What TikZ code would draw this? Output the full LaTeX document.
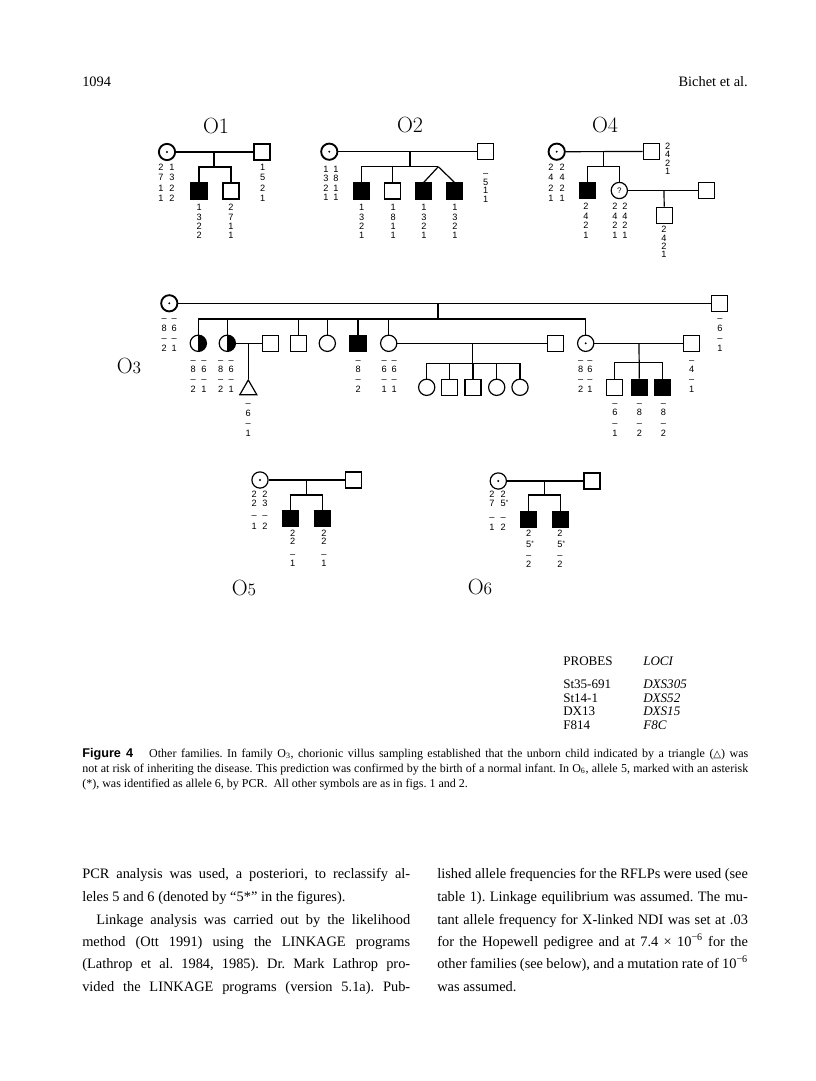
\documentclass[tikz,border=0pt]{standalone}
\usepackage{fontspec}
\newfontfamily\tms{Liberation Serif}
\newfontfamily\alfont{Liberation Sans}
\newfontfamily\capsans{Liberation Sans}
\newfontfamily\symf{DejaVu Sans}
\usetikzlibrary{shapes.geometric}
\frenchspacing
\newcommand\gcol[3]{\foreach \yy/\vv [count=\ii] in {#3} {\node[al] (#1-\ii) at (#2,\yy) {\vv};}}
\newcommand\myast{\rlap{\raisebox{0.35ex}{\fontsize{4.8}{4.8}\selectfont *}}}
\tikzset{
 ped/.style={line width=0.9pt},
 sq/.style={draw, line width=0.9pt, rectangle, minimum size=12pt, inner sep=0pt},
 fsq/.style={sq, fill=black},
 fem/.style={draw, line width=0.9pt, circle, minimum size=12.2pt, inner sep=0pt},
 carr/.style={fem, path picture={\fill (path picture bounding box.center) circle (0.8pt);}},
 carrt/.style={carr, line width=1.4pt},
 half/.style={fem, path picture={\fill (path picture bounding box.north) rectangle (path picture bounding box.south east);}},
 tri/.style={draw, line width=0.9pt, regular polygon, regular polygon sides=3, minimum size=14.7pt, inner sep=0pt},
 al/.style={font=\alfont\fontsize{6.9}{7}\selectfont, inner sep=0pt, text height=5pt, text depth=0pt},
 otitle/.style={font=\fontsize{16.5}{18}\selectfont, inner sep=0pt},
 txt/.style={font=\tms\fontsize{10.8}{12}\selectfont, inner sep=0pt, anchor=base west},
 captxt/.style={font=\tms\fontsize{9}{10}\selectfont, inner sep=0pt, anchor=base west},
 prb/.style={font=\tms\fontsize{9.8}{11}\selectfont, inner sep=0pt, anchor=base west},
}
\begin{document}
\begin{tikzpicture}[x=0.75pt,y=-0.75pt]
\fill[white] (0,0) rectangle (816,1081);
\useasboundingbox (0,0) rectangle (816,1081);

% header
\node[txt] (pg) at (82,87) {1094};
\node[txt, anchor=base east] (au) at (748,87) {Bichet et al.};

% ---------- O1
\node[otitle] (t1) at (216,126) {O1};
\node[carrt] (o1m) at (167,152) {};
\node[sq] (o1f) at (262,152) {};
\draw[ped] (o1m) -- (o1f);
\coordinate (o1d) at (214,152);
\coordinate (o1s) at (214,167);
\node[fsq] (o1c1) at (199,191) {};
\node[sq] (o1c2) at (231,191) {};
\draw[ped] (o1d) -- (o1s);
\draw[ped] (o1c1.north) |- (o1s) -| (o1c2.north);
\gcol{o1ma}{161}{167/2,177.5/7,188/1,198.5/1}
\gcol{o1mb}{172}{167/1,177.5/3,188/2,198.5/2}
\gcol{o1fa}{262.7}{167/1,177.5/5,188/2,198.5/1}
\gcol{o1c1a}{199.3}{207.3/1,216.7/3,226/2,235.3/2}
\gcol{o1c2a}{231}{207.3/2,216.7/7,226/1,235.3/1}

% ---------- O2
\node[otitle] (t2) at (410,125) {O2};
\node[carrt] (o2m) at (329.3,151.7) {};
\node[sq] (o2f) at (485.5,151.7) {};
\draw[ped] (o2m) -- (o2f);
\coordinate (o2d) at (410,151.7);
\coordinate (o2s) at (410,166.7);
\coordinate (o2t) at (438.3,166.7);
\node[fsq] (o2c1) at (361.3,191) {};
\node[sq] (o2c2) at (392.8,191) {};
\node[fsq] (o2c3) at (423.7,191) {};
\node[fsq] (o2c4) at (454.5,191) {};
\draw[ped] (o2d) -- (o2s);
\draw[ped] (o2c1.north) |- (o2t);
\draw[ped] (o2c2.north) -- (o2c2.north |- o2s);
\draw[ped] (o2t) -- (o2c3.north);
\draw[ped] (o2t) -- (o2c4.north);
\gcol{o2ma}{326}{169/1,178.5/3,188/2,197.5/1}
\gcol{o2mb}{336}{169/1,178.5/8,188/1,197.5/1}
\gcol{o2fa}{485.7}{173/–,182/5,190.5/1,199/1}
\gcol{o2c1a}{361.7}{207.3/1,216.7/3,226/2,235.3/1}
\gcol{o2c2a}{393.3}{207.3/1,216.7/8,226/1,235.3/1}
\gcol{o2c3a}{424}{207.3/1,216.7/3,226/2,235.3/1}
\gcol{o2c4a}{455}{207.3/1,216.7/3,226/2,235.3/1}

% ---------- O4
\node[otitle] (t4) at (605,125) {O4};
\node[carrt] (o4m) at (556.7,151.7) {};
\node[sq] (o4f) at (651.3,151.5) {};
\draw[ped] (o4m) -- (o4f);
\coordinate (o4d) at (603.3,151.6);
\coordinate (o4s) at (603.3,166.7);
\node[fsq] (o4c1) at (587.3,190.5) {};
\node[fem, font=\alfont\fontsize{6}{6}\selectfont] (o4c2) at (619.3,190.5) {?};
\node[sq] (o4f2) at (706.3,190.5) {};
\coordinate (o4d2) at (664,190.5);
\node[sq] (o4c3) at (664.2,215.3) {};
\draw[ped] (o4d) -- (o4s);
\draw[ped] (o4c1.north) |- (o4s) -| (o4c2.north);
\draw[ped] (o4c2) -- (o4f2);
\draw[ped] (o4d2) -- (o4c3.north);
\gcol{o4ma}{551}{167/2,177.5/4,188/2,198.5/1}
\gcol{o4mb}{562.3}{167/2,177.5/4,188/2,198.5/1}
\gcol{o4fa}{667.7}{146.3/2,154.5/4,162.7/2,170.9/1}
\gcol{o4c1a}{586}{206.5/2,216/4,225.5/2,235/1}
\gcol{o4c2a}{615}{206.5/2,216/4,225.5/2,235/1}
\gcol{o4c2b}{625}{206.5/2,216/4,225.5/2,235/1}
\gcol{o4c3a}{664}{229.3/2,237.7/4,246.1/2,254.5/1}

% ---------- O3
\node[otitle] (t3) at (129,366) {O{\fontsize{13}{13}\selectfont 3}};
\node[carrt] (o3g1) at (169.3,303.3) {};
\node[sq] (o3g2) at (719.8,303.3) {};
\draw[ped] (o3g1) -- (o3g2);
\coordinate (o3d) at (438,303.3);
\coordinate (o3s) at (438,319);
\draw[ped] (o3d) -- (o3s);
\node[half] (o3h1) at (198.3,343.3) {};
\node[half] (o3h2) at (227.3,343.3) {};
\node[sq] (o3h3) at (298.7,343.3) {};
\node[fem] (o3h4) at (327.3,343.3) {};
\node[fsq] (o3h5) at (358,343.3) {};
\node[fem] (o3h6) at (388.7,343.3) {};
\node[carr] (o3h7) at (585.7,343.3) {};
\draw[ped] (o3h1.north) |- (o3s) -| (o3h7.north);
\foreach \n in {o3h2,o3h3,o3h4,o3h5,o3h6} \draw[ped] (\n.north) -- (\n.north |- o3s);
% spouse of h2 and the unborn child
\node[sq] (o3p2) at (270.3,343.3) {};
\draw[ped] (o3h2) -- (o3p2);
\coordinate (o3d2) at (248.3,343.3);
\node[tri] (o3tr) at (248.3,389.8) {};
\draw[ped] (o3d2) -- (o3tr.corner 1);
% spouse of h6 and children
\node[sq] (o3p6) at (555.3,343.3) {};
\draw[ped] (o3h6) -- (o3p6);
\coordinate (o3d6) at (472.7,343.3);
\coordinate (o3s6) at (472.7,363.3);
\draw[ped] (o3d6) -- (o3s6);
\node[fem] (o3k1) at (426.7,387.3) {};
\node[sq] (o3k2) at (449.8,387.3) {};
\node[sq] (o3k3) at (473,387.3) {};
\node[fem] (o3k4) at (496.7,387.3) {};
\node[fem] (o3k5) at (520,387.3) {};
\draw[ped] (o3k1.north) |- (o3s6) -| (o3k5.north);
\foreach \n in {o3k2,o3k3,o3k4} \draw[ped] (\n.north) -- (\n.north |- o3s6);
% spouse of h7 and children
\node[sq] (o3p7) at (691.2,343.3) {};
\draw[ped] (o3h7) -- (o3p7);
\coordinate (o3d7) at (639,343.3);
\coordinate (o3s7) at (639,362.3);
\node[sq] (o3m1) at (614.7,387.3) {};
\node[fsq] (o3m2) at (639.3,387.3) {};
\node[fsq] (o3m3) at (662.7,387.3) {};
\draw[ped] (o3d7) -- (o3m2.north);
\draw[ped] (o3m1.north) |- (o3s7) -| (o3m3.north);
% O3 alleles
\gcol{o3g1a}{164.3}{318/–,328/8,338/–,348/2}
\gcol{o3g1b}{174.3}{318/–,328/6,338/–,348/1}
\gcol{o3g2a}{720}{318/–,328/6,338/–,348/1}
\gcol{o3h1a}{193.3}{360/–,369.5/8,379.5/–,389.3/2}
\gcol{o3h1b}{204}{360/–,369.5/6,379.5/–,389.3/1}
\gcol{o3h2a}{220.7}{360/–,369.5/8,379.5/–,389.3/2}
\gcol{o3h2b}{231.3}{360/–,369.5/6,379.5/–,389.3/1}
\gcol{o3h5a}{358.3}{360/–,369.5/8,379.5/–,389.3/2}
\gcol{o3h6a}{384.3}{360/–,369.5/6,379.5/–,389.3/1}
\gcol{o3h6b}{394.3}{360/–,369.5/6,379.5/–,389.3/1}
\gcol{o3h7a}{580.7}{360/–,369.5/8,379.5/–,389.3/2}
\gcol{o3h7b}{590}{360/–,369.5/6,379.5/–,389.3/1}
\gcol{o3p7a}{691.7}{360/–,369.5/4,379.5/–,389.3/1}
\gcol{o3tra}{248.3}{403.3/–,413/6,423.3/–,433.3/1}
\gcol{o3m1a}{615}{402.7/–,412.5/6,422.7/–,432.7/1}
\gcol{o3m2a}{639.3}{402.7/–,412.5/8,422.7/–,432.7/2}
\gcol{o3m3a}{663.3}{402.7/–,412.5/8,422.7/–,432.7/2}

% ---------- O5
\node[otitle] (t5) at (244,588) {O{\fontsize{13}{13}\selectfont 5}};
\node[carr] (o5m) at (260,480) {};
\node[sq] (o5f) at (353.7,480) {};
\draw[ped] (o5m) -- (o5f);
\coordinate (o5d) at (306.7,480);
\coordinate (o5s) at (306.7,495);
\node[fsq] (o5c1) at (290.8,518.3) {};
\node[fsq] (o5c2) at (322.5,518.3) {};
\draw[ped] (o5d) -- (o5s);
\draw[ped] (o5c1.north) |- (o5s) -| (o5c2.north);
\gcol{o5ma}{254.3}{494.3/2,502.7/2,515/–,525.7/1}
\gcol{o5mb}{265}{494.3/2,502.7/3,515/–,525.7/2}
\gcol{o5c1a}{292.7}{532.7/2,540.7/2,554/–,563.3/1}
\gcol{o5c2a}{324}{532.7/2,540.7/2,554/–,563.3/1}

% ---------- O6
\node[otitle] (t6) at (480,587) {O{\fontsize{13}{13}\selectfont 6}};
\node[carr] (o6m) at (498.3,481) {};
\node[sq] (o6f) at (592,481) {};
\draw[ped] (o6m) -- (o6f);
\coordinate (o6d) at (544.3,481);
\coordinate (o6s) at (544.3,495);
\node[fsq] (o6c1) at (528.7,519.3) {};
\node[fsq] (o6c2) at (560.3,519.3) {};
\draw[ped] (o6d) -- (o6s);
\draw[ped] (o6c1.north) |- (o6s) -| (o6c2.north);
\gcol{o6ma}{492}{494.3/2,503.3/7,517.3/–,526.7/1}
\gcol{o6mb}{503.3}{494.3/2,503.3/{5\myast},517.3/–,526.7/2}
\gcol{o6c1a}{528.7}{532.7/2,544/{5\myast},555/–,564/2}
\gcol{o6c2a}{560}{532.7/2,544/{5\myast},555/–,564/2}

% ---------- probes table
\node[prb] (ph) at (563,665) {PROBES};
\node[prb] (lh) at (643,665) {\itshape LOCI};
\node[prb] (p1) at (563,688) {St35-691};
\node[prb] (l1) at (643,688) {\itshape DXS305};
\node[prb] (p2) at (563,702) {St14-1};
\node[prb] (l2) at (643,702) {\itshape DXS52};
\node[prb] (p3) at (563,715.5) {DX13};
\node[prb] (l3) at (643,715.5) {\itshape DXS15};
\node[prb] (p4) at (563,729) {F814};
\node[prb] (l4) at (643,729) {\itshape F8C};

% ---------- caption
\node[captxt] (c1) at (82,757) {\makebox[499.5pt][s]{{\capsans\bfseries\fontsize{9.5}{10}\selectfont Figure 4}\hspace{12pt}Other families. In family O\textsubscript{3}, chorionic villus sampling established that the unborn child indicated by a triangle ({\symf\fontsize{7.5}{8}\selectfont △}) was}};
\node[captxt] (c2) at (82,772) {\makebox[499.5pt][s]{not at risk of inheriting the disease. This prediction was confirmed by the birth of a normal infant. In O\textsubscript{6}, allele 5, marked with an asterisk}};
\node[captxt] (c3) at (82,787) {(*), was identified as allele 6, by PCR.\ \ All other symbols are as in figs. 1 and 2.};

% ---------- body text, left column
\node[txt] (b1) at (82,878) {\makebox[246pt][s]{PCR analysis was used, a posteriori, to reclassify al-}};
\node[txt] (b2) at (82,901) {leles 5 and 6 (denoted by “5*” in the figures).};
\node[txt] (b3) at (96,924) {\makebox[235.5pt][s]{Linkage analysis was carried out by the likelihood}};
\node[txt] (b4) at (82,946) {\makebox[246pt][s]{method (Ott 1991) using the LINKAGE programs}};
\node[txt] (b5) at (82,968) {\makebox[246pt][s]{(Lathrop et al. 1984, 1985). Dr. Mark Lathrop pro-}};
\node[txt] (b6) at (82,991) {\makebox[246pt][s]{vided the LINKAGE programs (version 5.1a). Pub-}};
% right column
\node[txt] (r1) at (437,878) {\makebox[233pt][s]{lished allele frequencies for the RFLPs were used (see}};
\node[txt] (r2) at (437,901) {\makebox[233pt][s]{table 1). Linkage equilibrium was assumed. The mu-}};
\node[txt] (r3) at (437,924) {\makebox[233pt][s]{tant allele frequency for X-linked NDI was set at .03}};
\node[txt] (r4) at (437,946) {\makebox[233pt][s]{for the Hopewell pedigree and at 7.4 × 10\textsuperscript{−6} for the}};
\node[txt] (r5) at (437,968) {\makebox[233pt][s]{other families (see below), and a mutation rate of 10\textsuperscript{−6}}};
\node[txt] (r6) at (437,991) {was assumed.};
\end{tikzpicture}
\end{document}
